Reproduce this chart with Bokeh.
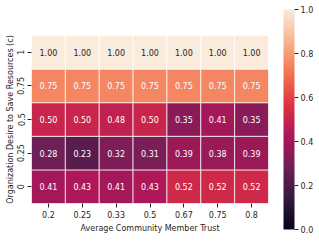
import numpy as np
from bokeh.plotting import figure
from bokeh.models import LinearColorMapper, FixedTicker, NumeralTickFormatter, ColumnDataSource, ColorBar
from bokeh.transform import transform
from bokeh.core.properties import value
from bokeh.embed import file_html
from bokeh.resources import INLINE

# ---- data ----
trust = ["0.2", "0.25", "0.33", "0.5", "0.67", "0.75", "0.8"]
desire = ["0", "0.25", "0.5", "0.75", "1"]  # bottom to top
row_c0 = [0.41, 0.43, 0.41, 0.43, 0.52, 0.52, 0.52]
row_c025 = [0.28, 0.23, 0.32, 0.31, 0.39, 0.38, 0.39]
row_c05 = [0.50, 0.50, 0.48, 0.50, 0.35, 0.41, 0.35]
row_c075 = [0.75, 0.75, 0.75, 0.75, 0.75, 0.75, 0.75]
row_c1 = [1.00, 1.00, 1.00, 1.00, 1.00, 1.00, 1.00]
rows = [row_c0, row_c025, row_c05, row_c075, row_c1]
cbar_ticks = [0.0, 0.2, 0.4, 0.6, 0.8, 1.0]

# ---- rocket-like colormap ----
anchors = ["#03051a", "#35193e", "#701f57", "#ad1759", "#e13342", "#f37651", "#f6b48f", "#faebdd"]
def hex2rgb(h):
    return np.array([int(h[i:i + 2], 16) for i in (1, 3, 5)], dtype=float)
arr = np.array([hex2rgb(h) for h in anchors])
pos = np.linspace(0, 1, len(anchors))
palette = []
for t in np.linspace(0, 1, 256):
    rgb = [np.interp(t, pos, arr[:, k]) for k in range(3)]
    palette.append("#%02x%02x%02x" % tuple(int(round(v)) for v in rgb))
mapper = LinearColorMapper(palette=palette, low=0, high=1)

xs, ys, vals, labels, tcol = [], [], [], [], []
for yi, r in zip(desire, rows):
    for xi, v in zip(trust, r):
        xs.append(xi); ys.append(yi); vals.append(v)
        labels.append("%.2f" % v)
        tcol.append("#262626" if v > 0.9 else "white")
src = ColumnDataSource(dict(x=xs, y=ys, v=vals, label=labels, tc=tcol))

FONT = "DejaVu Sans"
FS = "8px"
TXT = "#262626"

p = figure(x_range=trust, y_range=desire, frame_width=237, frame_height=168,
           min_border_top=35, min_border_left=31, min_border_right=51, min_border_bottom=38,
           output_backend="svg", toolbar_location=None)
p.rect(x="x", y="y", width=1, height=1, source=src,
       fill_color=transform("v", mapper), line_color="white", line_width=0.8, line_alpha=0.9)
p.text(x="x", y="y", text="label", source=src, text_color="tc",
       text_align="center", text_baseline="middle",
       text_font=value(FONT), text_font_size=FS)
p.grid.visible = False
p.outline_line_color = None
for ax in (p.xaxis[0], p.yaxis[0]):
    ax.axis_line_color = None
    ax.major_tick_line_color = TXT
    ax.major_tick_out = 4
    ax.major_tick_in = 0
    ax.minor_tick_line_color = None
    ax.major_label_text_font = FONT
    ax.major_label_text_font_size = FS
    ax.major_label_text_color = TXT
    ax.axis_label_text_font = FONT
    ax.axis_label_text_font_size = FS
    ax.axis_label_text_font_style = "normal"
    ax.axis_label_text_color = TXT
p.xaxis.axis_label = "Average Community Member Trust"
p.yaxis.axis_label = "Organization Desire to Save Resources (c)"
p.xaxis.major_label_standoff = 3
p.xaxis.axis_label_standoff = 3
p.yaxis.major_label_orientation = "vertical"
p.yaxis.major_label_standoff = 3
p.yaxis.axis_label_standoff = 0

cb = ColorBar(color_mapper=mapper, width=11, height=220, location=(15, -26),
              ticker=FixedTicker(ticks=cbar_ticks), formatter=NumeralTickFormatter(format="0.0"),
              padding=0, margin=0, bar_line_color=None, border_line_color=None,
              background_fill_color=None,
              major_tick_out=4, major_tick_in=0, major_tick_line_color=TXT,
              minor_tick_line_color=None, label_standoff=2,
              major_label_text_font=FONT, major_label_text_font_size=FS,
              major_label_text_color=TXT)
p.add_layout(cb, "right")

open("out.html", "w").write(file_html(p, INLINE))
